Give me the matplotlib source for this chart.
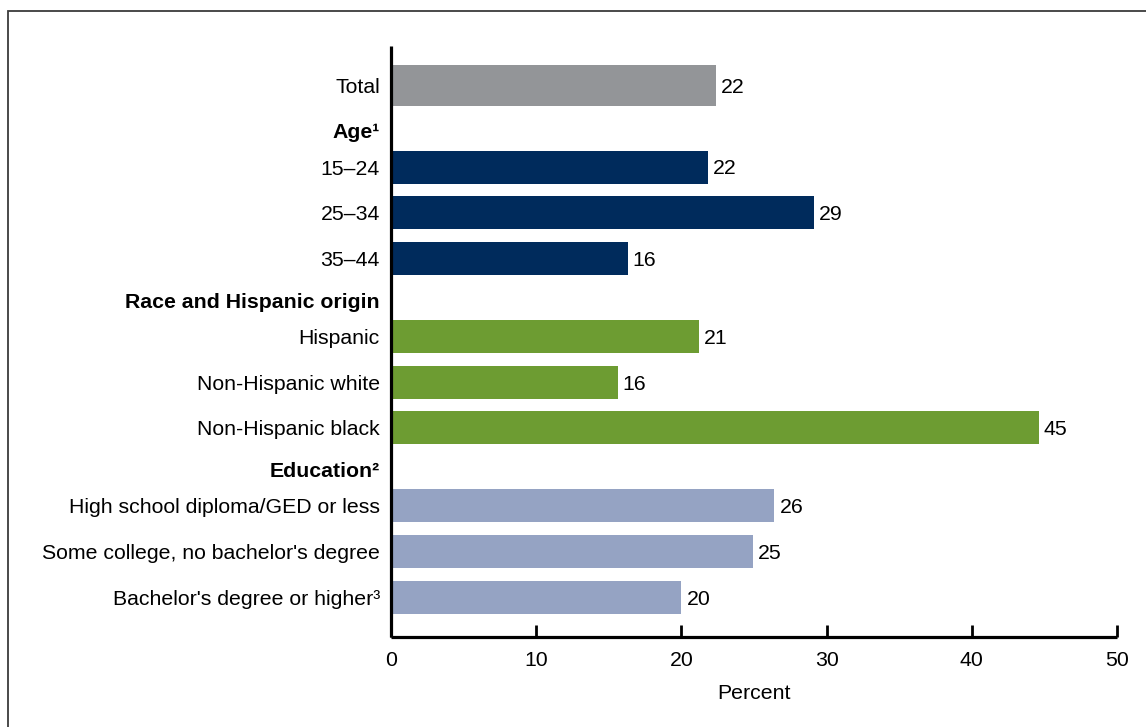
import matplotlib
matplotlib.use("Agg")
import matplotlib.pyplot as plt
from matplotlib.patches import Rectangle

plt.rcParams["font.family"] = ["Liberation Sans", "DejaVu Sans"]

# data
groups = ["", "Age¹", "Race and Hispanic origin", "Education²"]
group_labels = [
    ["Total"],
    ["15–24", "25–34", "35–44"],
    ["Hispanic", "Non-Hispanic white", "Non-Hispanic black"],
    ["High school diploma/GED or less", "Some college, no bachelor's degree",
     "Bachelor's degree or higher³"],
]
group_values = [
    [22.4],
    [21.8, 29.1, 16.3],
    [21.2, 15.6, 44.6],
    [26.4, 24.9, 20.0],
]
group_text = [
    ["22"],
    ["22", "29", "16"],
    ["21", "16", "45"],
    ["26", "25", "20"],
]
group_colors = ["#939598", "#002b5c", "#6d9c32", "#95a3c3"]

FS = 15.3

fig = plt.figure(figsize=(11.46, 7.27), dpi=100)
ax = fig.add_axes([391 / 1146, 1 - 637 / 727, (1117 - 391) / 1146, (637 - 46) / 727])

# frame around the whole figure
fig.patches.append(Rectangle((8 / 1146, -0.1), 1.1, 1 - 11 / 727 + 0.1,
                             transform=fig.transFigure, fill=False,
                             edgecolor="#3c3c3c", linewidth=1.3))

tick_pos, tick_lab, bold = [], [], []
y = 0.0
prev_h = 0.73
for gi, (head, labels, vals, txts) in enumerate(zip(groups, group_labels, group_values, group_text)):
    if head:
        y += 0.92 + (prev_h - 0.73) / 2
        tick_pos.append(y)
        tick_lab.append(head)
        bold.append(True)
        y += 0.8
    height = 0.9 if gi == 0 else 0.73
    for i, (lab, v, t) in enumerate(zip(labels, vals, txts)):
        if i > 0:
            y += 1.01
        ax.barh(y, v, height=height, color=group_colors[gi], linewidth=0)
        ax.text(v + 0.35, y + 0.04, t, va="center", ha="left", fontsize=FS)
        tick_pos.append(y)
        tick_lab.append(lab)
        bold.append(False)
    prev_h = height

ax.set_ylim(y + 0.875, -0.868)
ax.set_xlim(0, 50)
ax.set_yticks(tick_pos)
ax.set_yticklabels(tick_lab, fontsize=FS)
for lbl, b in zip(ax.get_yticklabels(), bold):
    if b:
        lbl.set_fontweight("bold")
ax.tick_params(axis="y", length=0, pad=8)

ax.set_xticks([0, 10, 20, 30, 40, 50])
ax.tick_params(axis="x", direction="in", length=9, width=2, pad=10, labelsize=FS)
ax.set_xlabel("Percent", fontsize=FS, labelpad=10)

for side in ["top", "right"]:
    ax.spines[side].set_visible(False)
for side in ["left", "bottom"]:
    ax.spines[side].set_linewidth(2.3)
    ax.spines[side].set_capstyle("butt")

fig.savefig("out.png", dpi=100)
